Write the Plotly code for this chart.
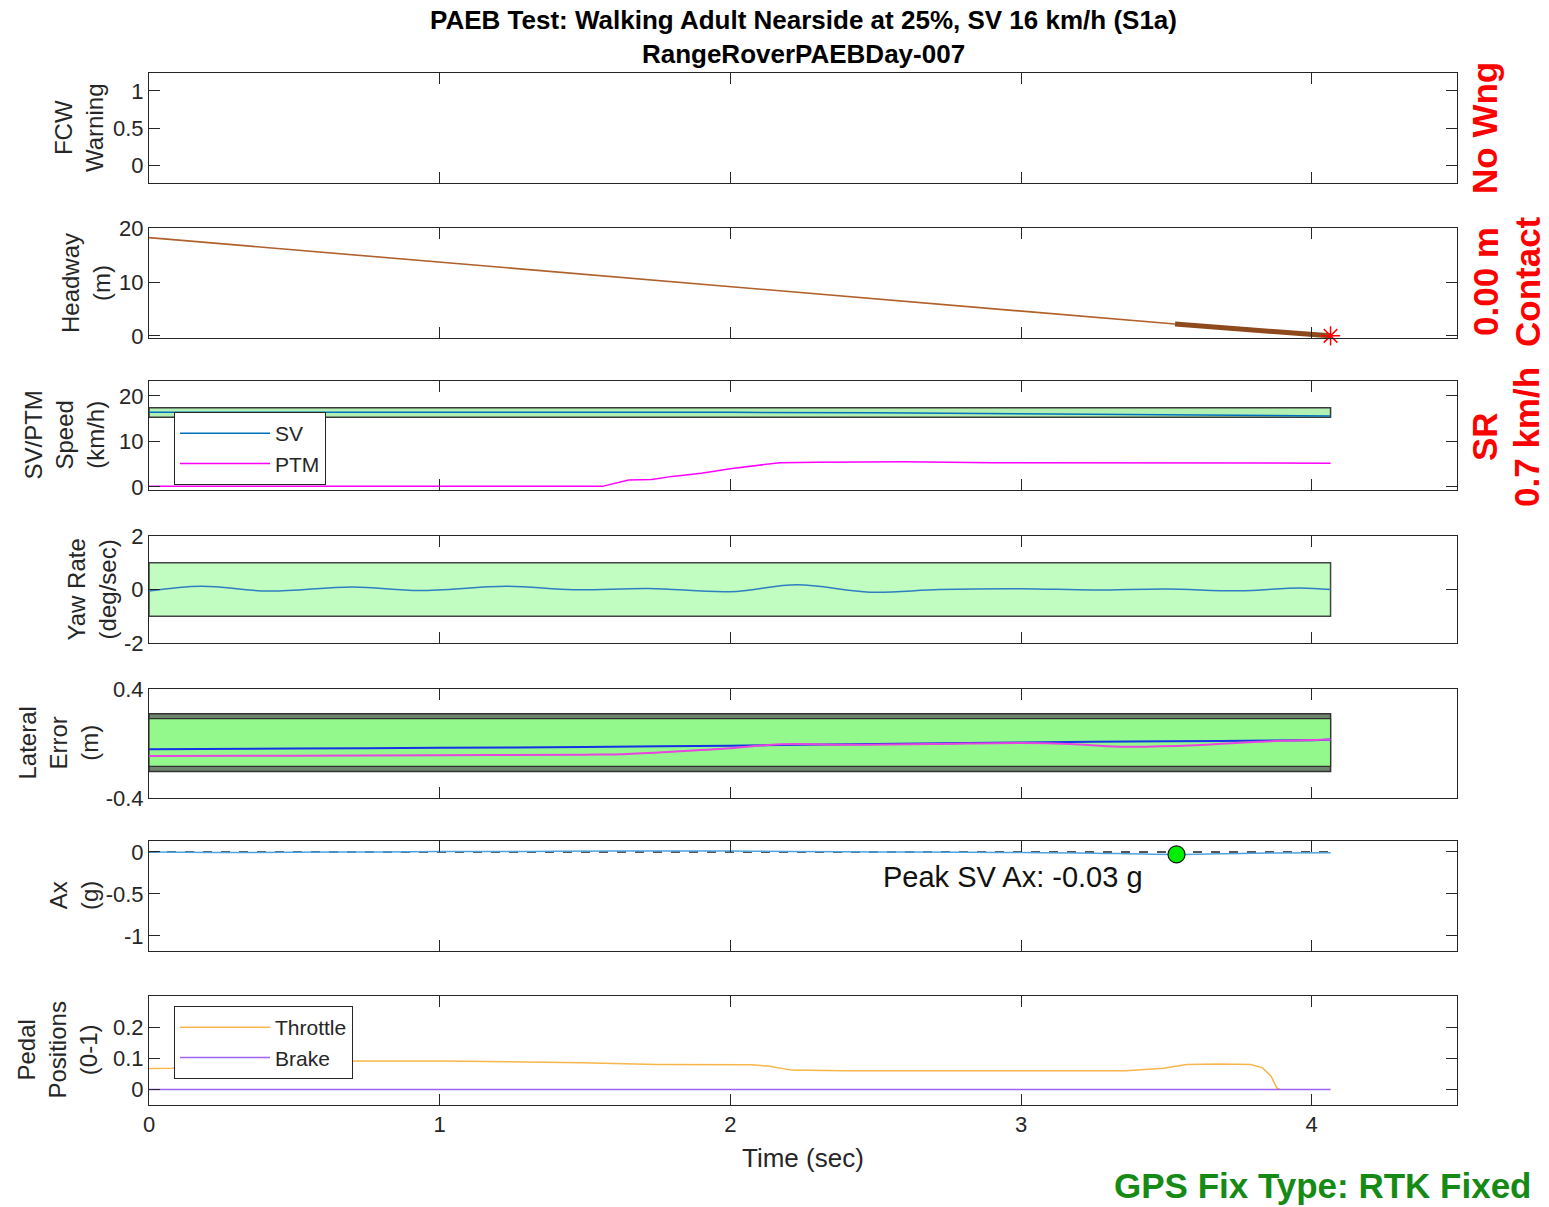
import plotly.graph_objects as go

# ---------------- data ----------------
title_lines = ["PAEB Test: Walking Adult Nearside at 25%, SV 16 km/h (S1a)", "RangeRoverPAEBDay-007"]

t_end = 4.065

# Headway (m)
t_hw = [0.0, 0.5, 1.0, 1.5, 2.0, 2.5, 3.0, 3.53]
hw = [18.3, 16.0, 13.8, 11.5, 9.2, 6.9, 4.6, 2.2]
t_hw_thick = [3.53, 3.8, 4.065]
hw_thick = [2.2, 1.0, 0.0]
contact_t = [4.065]
contact_hw = [0.0]

# Speed (km/h)
t_sv = [0.0, 0.5, 1.0, 1.5, 2.0, 2.5, 3.0, 3.5, 4.065]
sv_speed = [16.4, 16.4, 16.5, 16.5, 16.4, 16.3, 16.1, 15.9, 15.6]
t_ptm = [0.0, 0.5, 1.0, 1.56, 1.65, 1.73, 1.80, 1.9, 2.0, 2.1, 2.17, 2.3, 2.6, 2.9, 3.2, 3.5, 3.8, 4.065]
ptm_speed = [0.1, 0.1, 0.1, 0.1, 1.5, 1.6, 2.3, 3.0, 4.0, 4.7, 5.3, 5.4, 5.5, 5.3, 5.3, 5.3, 5.2, 5.2]
speed_band = [15.3, 17.4]

# Yaw rate (deg/sec)
t_yaw = [0.0, 0.18, 0.41, 0.7, 0.93, 1.23, 1.46, 1.72, 2.0, 2.23, 2.48, 2.72, 3.0, 3.25, 3.5, 3.75, 3.96, 4.065]
yaw = [-0.06, 0.12, -0.06, 0.09, -0.04, 0.12, -0.01, 0.04, -0.08, 0.18, -0.1, 0.0, 0.03, -0.02, 0.02, -0.05, 0.06, 0.0]
yaw_band = [-1.0, 1.0]

# Lateral error (m)
t_lat_sv = [0.0, 0.5, 1.0, 1.5, 2.0, 2.5, 3.0, 3.5, 4.0, 4.065]
lat_sv = [-0.042, -0.037, -0.032, -0.025, -0.016, -0.003, 0.008, 0.016, 0.024, 0.03]
t_lat_ptm = [0.0, 0.5, 1.0, 1.5, 1.62, 1.8, 2.0, 2.17, 2.43, 2.7, 3.0, 3.17, 3.34, 3.6, 3.75, 3.9, 4.065]
lat_ptm = [-0.092, -0.089, -0.086, -0.082, -0.079, -0.06, -0.035, -0.006, -0.01, -0.004, 0.004, -0.003, -0.023, -0.013, 0.006, 0.02, 0.03]
lat_band_outer = [-0.205, 0.218]
lat_band_inner = [-0.168, 0.182]

# Longitudinal acceleration (g)
t_ax = [0.0, 0.1, 0.3, 0.5, 0.8, 1.0, 1.3, 1.6, 1.8, 2.0, 2.2, 2.5, 2.8, 3.0, 3.2, 3.535, 3.8, 4.065]
ax_sv = [0.0, -0.005, -0.008, -0.004, 0.0, 0.004, 0.006, 0.01, 0.012, 0.01, 0.005, 0.0, -0.004, -0.008, -0.012, -0.03, -0.015, -0.01]
ax_ref = [0.0, 0.0]
peak_t = [3.535]
peak_ax = [-0.03]
peak_label = "Peak SV Ax: -0.03 g"

# Pedal positions (0-1)
t_thr = [0.0, 0.08, 0.3, 0.5, 0.71, 1.0, 1.49, 1.745, 2.07, 2.13, 2.21, 2.39, 2.8, 3.36, 3.49, 3.57, 3.68, 3.79, 3.83, 3.86, 3.88, 3.89]
throttle = [0.067, 0.068, 0.08, 0.088, 0.091, 0.091, 0.086, 0.08, 0.079, 0.075, 0.062, 0.06, 0.06, 0.06, 0.068, 0.08, 0.082, 0.08, 0.07, 0.043, 0.005, 0.0]
t_brake = [0.0, 4.065]
brake = [0.0, 0.0]

y_titles = ["FCW<br>Warning", "Headway<br>(m)", "SV/PTM<br>Speed<br>(km/h)", "Yaw Rate<br>(deg/sec)",
            "Lateral<br>Error<br>(m)", "Ax<br>(g)", "Pedal<br>Positions<br>(0-1)"]
y_ranges = [[-0.23, 1.24], [-0.4, 20.1], [-0.7, 23.3], [-2, 2], [-0.4, 0.4], [-1.18, 0.13], [-0.05, 0.3]]
y_ticks = [[0, 0.5, 1], [0, 10, 20], [0, 10, 20], [-2, 0, 2], [-0.4, 0.4], [-1, -0.5, 0], [0, 0.1, 0.2]]
y_ticktext = [["0", "0.5", "1"], ["0", "10", "20"], ["0", "10", "20"], ["-2", "0", "2"], ["-0.4", "0.4"],
              ["-1", "-0.5", "0"], ["0", "0.1", "0.2"]]
x_ticks = [0, 1, 2, 3, 4]
x_range = [0, 4.5]
x_title = "Time (sec)"
right_texts = [("No Wng", None), ("0.00 m", "Contact"), ("SR", "0.7 km/h")]
gps_text = "GPS Fix Type: RTK Fixed"

# ---------------- layout geometry ----------------
W, H = 1549, 1207
L, R, T, B = 149, 92, 73, 102
PW, PH = W - L - R, H - T - B
panels_px = [(73, 183), (228, 338), (381, 490), (536, 643), (689, 798), (841, 951), (996, 1105)]
ytitle_x_px = [79, 86, 64, 91, 58, 74, 57]


def py2paper(py):
    return (H - B - py) / PH


def px2paper(px):
    return (px - L) / PW


FONT = "Arial, Liberation Sans, Helvetica, sans-serif"
AXC = "#262626"

fig = go.Figure()


def rect_xy(lohi):
    return [0.0, t_end, t_end, 0.0, 0.0], [lohi[0], lohi[0], lohi[1], lohi[1], lohi[0]]


# Panel 1: FCW (no warning) - empty trace so the axes are drawn
fig.add_trace(go.Scatter(x=[], y=[], mode="lines", xaxis="x", yaxis="y", showlegend=False))

# Panel 2: headway
fig.add_trace(go.Scatter(x=t_hw, y=hw, mode="lines", line=dict(color="#B0602C", width=1.6),
                         xaxis="x2", yaxis="y2", showlegend=False))
fig.add_trace(go.Scatter(x=t_hw_thick, y=hw_thick, mode="lines", line=dict(color="#8E4A1C", width=5),
                         xaxis="x2", yaxis="y2", showlegend=False))
fig.add_trace(go.Scatter(x=contact_t, y=contact_hw, mode="markers",
                         marker=dict(symbol="asterisk-open", size=16, color="#FF0000",
                                     line=dict(color="#FF0000", width=1.5)),
                         xaxis="x2", yaxis="y2", showlegend=False, cliponaxis=False))

# Panel 3: speed
bx, by = rect_xy(speed_band)
fig.add_trace(go.Scatter(x=bx, y=by, mode="lines", fill="toself", fillcolor="#B2F0B4",
                         line=dict(color="#3a3a3a", width=1.5), xaxis="x3", yaxis="y3", showlegend=False))
fig.add_trace(go.Scatter(x=t_sv, y=sv_speed, mode="lines", name="SV", line=dict(color="#0072BD", width=1.5),
                         xaxis="x3", yaxis="y3", legend="legend"))
fig.add_trace(go.Scatter(x=t_ptm, y=ptm_speed, mode="lines", name="PTM", line=dict(color="#FF00FF", width=1.5),
                         xaxis="x3", yaxis="y3", legend="legend"))

# Panel 4: yaw
bx, by = rect_xy(yaw_band)
fig.add_trace(go.Scatter(x=bx, y=by, mode="lines", fill="toself", fillcolor="#C1FCC1",
                         line=dict(color="#444444", width=1.5), xaxis="x4", yaxis="y4", showlegend=False))
fig.add_trace(go.Scatter(x=t_yaw, y=yaw, mode="lines", line=dict(color="#2E7FC1", width=1.5, shape="spline"),
                         xaxis="x4", yaxis="y4", showlegend=False))

# Panel 5: lateral
bx, by = rect_xy(lat_band_outer)
fig.add_trace(go.Scatter(x=bx, y=by, mode="lines", fill="toself", fillcolor="#6F846F",
                         line=dict(color="#333333", width=1.5), xaxis="x5", yaxis="y5", showlegend=False))
bx, by = rect_xy(lat_band_inner)
fig.add_trace(go.Scatter(x=bx, y=by, mode="lines", fill="toself", fillcolor="#93F98C",
                         line=dict(color="#333333", width=1.2), xaxis="x5", yaxis="y5", showlegend=False))
fig.add_trace(go.Scatter(x=t_lat_sv, y=lat_sv, mode="lines", line=dict(color="#1432E6", width=2, shape="spline"),
                         xaxis="x5", yaxis="y5", showlegend=False))
fig.add_trace(go.Scatter(x=t_lat_ptm, y=lat_ptm, mode="lines", line=dict(color="#E844E0", width=2, shape="spline"),
                         xaxis="x5", yaxis="y5", showlegend=False))

# Panel 6: Ax
fig.add_trace(go.Scatter(x=[0.0, t_end], y=ax_ref, mode="lines", line=dict(color="#555555", width=2, dash="dash"),
                         xaxis="x6", yaxis="y6", showlegend=False))
fig.add_trace(go.Scatter(x=t_ax, y=ax_sv, mode="lines", line=dict(color="#4DA3E0", width=1.5, shape="spline"),
                         xaxis="x6", yaxis="y6", showlegend=False))
fig.add_trace(go.Scatter(x=peak_t, y=peak_ax, mode="markers",
                         marker=dict(symbol="circle", size=17, color="#00EE00", line=dict(color="#111111", width=1.2)),
                         xaxis="x6", yaxis="y6", showlegend=False))

# Panel 7: pedals
fig.add_trace(go.Scatter(x=t_thr, y=throttle, mode="lines", name="Throttle", line=dict(color="#F7B64A", width=1.5),
                         xaxis="x7", yaxis="y7", legend="legend2"))
fig.add_trace(go.Scatter(x=t_brake, y=brake, mode="lines", name="Brake", line=dict(color="#A162F4", width=1.5),
                         xaxis="x7", yaxis="y7", legend="legend2"))

# axes
axis_common = dict(showline=True, linecolor=AXC, linewidth=1, mirror="ticks", ticks="inside", ticklen=11,
                   tickcolor=AXC, tickwidth=1, showgrid=False, zeroline=False,
                   tickfont=dict(size=22, color=AXC, family=FONT))
layout_axes = {}
for i, (top, bot) in enumerate(panels_px):
    n = i + 1
    xa = "xaxis" if n == 1 else f"xaxis{n}"
    ya = "yaxis" if n == 1 else f"yaxis{n}"
    layout_axes[xa] = dict(axis_common, domain=[0, 1], range=x_range, tickvals=x_ticks,
                           showticklabels=(n == 7), anchor="y" if n == 1 else f"y{n}")
    layout_axes[ya] = dict(axis_common, domain=[py2paper(bot), py2paper(top)], range=y_ranges[i],
                           tickvals=y_ticks[i], ticktext=y_ticktext[i],
                           anchor="x" if n == 1 else f"x{n}")
fig.update_layout(**layout_axes)

annotations = []
# title
annotations.append(dict(text="<b>" + title_lines[0] + "</b><br><b>" + title_lines[1] + "</b>",
                        x=0.5, y=py2paper(37), xref="paper", yref="paper", xanchor="center", yanchor="middle",
                        showarrow=False, font=dict(size=26, color="#000000", family=FONT)))
# y titles
for i, (top, bot) in enumerate(panels_px):
    annotations.append(dict(text=y_titles[i], x=px2paper(ytitle_x_px[i]), y=py2paper((top + bot) / 2),
                            xref="paper", yref="paper", xanchor="center", yanchor="middle", textangle=-90,
                            showarrow=False, font=dict(size=24, color=AXC, family=FONT)))
# x title
annotations.append(dict(text=x_title, x=0.5, y=py2paper(1158), xref="paper", yref="paper",
                        xanchor="center", yanchor="middle", showarrow=False,
                        font=dict(size=26, color=AXC, family=FONT)))
# peak label
annotations.append(dict(text=peak_label, x=2.52, y=-0.30, xref="x6", yref="y6", xanchor="left", yanchor="middle",
                        showarrow=False, font=dict(size=29, color="#111111", family=FONT)))
# right-side red labels
red_centers = [128, 282, 437]
for (l1, l2), cy in zip(right_texts, red_centers):
    annotations.append(dict(text="<b>" + l1 + "</b>", x=px2paper(1485), y=py2paper(cy), xref="paper", yref="paper",
                            xanchor="center", yanchor="middle", textangle=-90, showarrow=False,
                            font=dict(size=35, color="#FF0000", family=FONT)))
    if l2:
        annotations.append(dict(text="<b>" + l2 + "</b>", x=px2paper(1527), y=py2paper(cy), xref="paper",
                                yref="paper", xanchor="center", yanchor="middle", textangle=-90, showarrow=False,
                                font=dict(size=35, color="#FF0000", family=FONT)))
# GPS
annotations.append(dict(text="<b>" + gps_text + "</b>", x=px2paper(1533), y=py2paper(1185), xref="paper",
                        yref="paper", xanchor="right", yanchor="middle", showarrow=False,
                        font=dict(size=35, color="#158A15", family=FONT)))

legend_common = dict(bgcolor="#FFFFFF", bordercolor="#262626", borderwidth=1,
                     font=dict(size=21, color="#262626", family=FONT),
                     xanchor="left", yanchor="top", itemwidth=90, tracegroupgap=0)
fig.update_layout(
    width=W, height=H,
    margin=dict(l=L, r=R, t=T, b=B),
    paper_bgcolor="#FFFFFF", plot_bgcolor="#FFFFFF",
    annotations=annotations,
    legend=dict(legend_common, x=px2paper(174), y=py2paper(412)),
    legend2=dict(legend_common, x=px2paper(174), y=py2paper(1006)),
    font=dict(family=FONT),
)

fig.write_html("out.html", config={"displayModeBar": False},
               post_script="document.body.style.margin='0';document.body.style.overflow='hidden';")
